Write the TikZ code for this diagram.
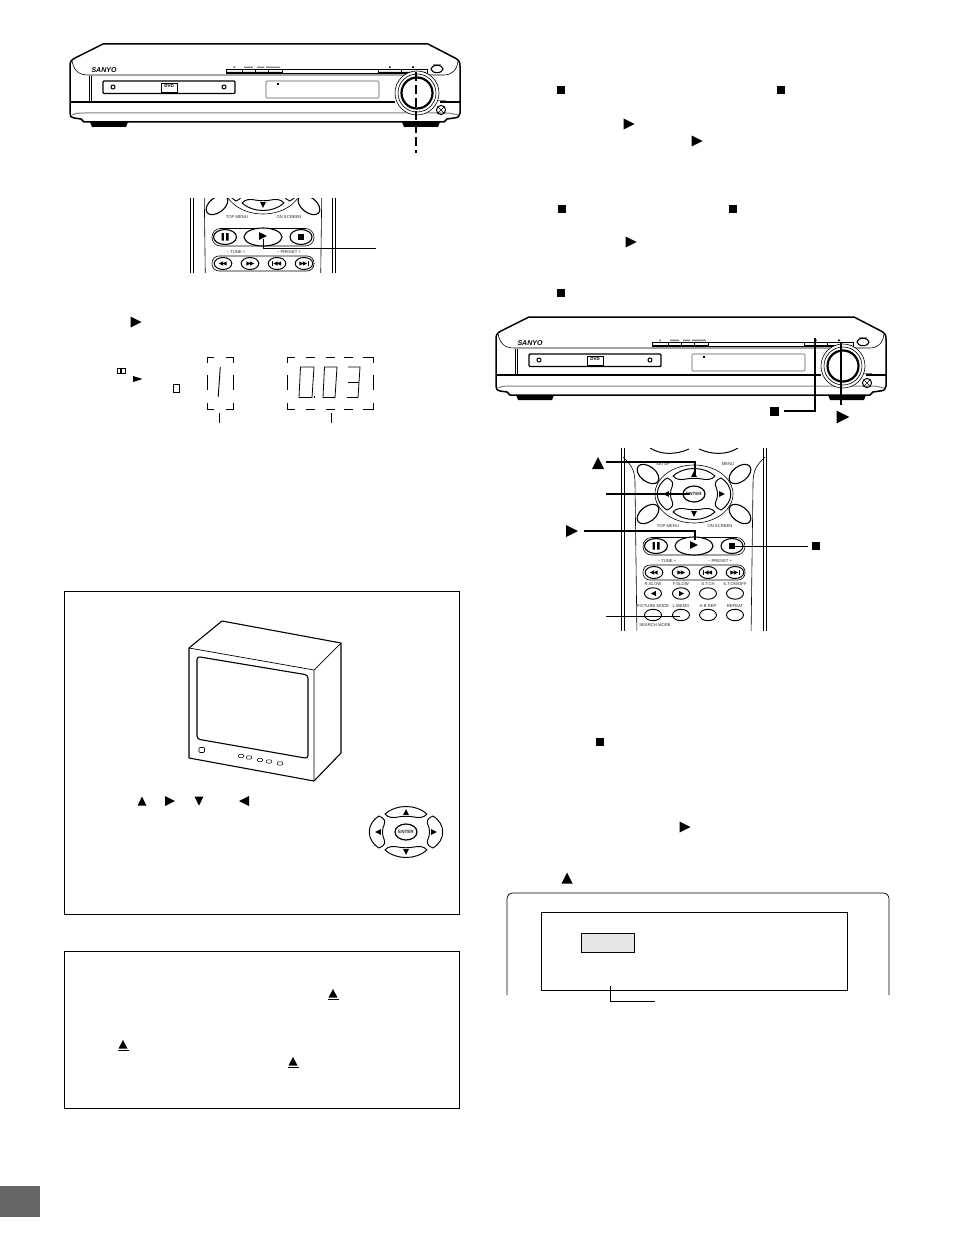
\documentclass[tikz,border=0pt]{standalone}
\usepackage{fontspec}
\setmainfont{Liberation Sans}
\newcommand\PlayT[3]{\fill (#1-#3,#2-#3) -- (#1+#3,#2) -- (#1-#3,#2+#3) -- cycle;}
\newcommand\BackT[3]{\fill (#1+#3,#2-#3) -- (#1-#3,#2) -- (#1+#3,#2+#3) -- cycle;}
\newcommand\UpT[3]{\fill (#1-#3,#2+#3) -- (#1,#2-#3) -- (#1+#3,#2+#3) -- cycle;}
\newcommand\DownT[3]{\fill (#1-#3,#2-#3) -- (#1,#2+#3) -- (#1+#3,#2-#3) -- cycle;}
\newcommand\StopS[2]{\fill (#1-4,#2-4) rectangle (#1+4,#2+4);}
\newcommand\Eject[2]{\fill (#1-4.5,#2+2.5) -- (#1,#2-6) -- (#1+4.5,#2+2.5) -- cycle; \fill (#1-5.5,#2+3.6) rectangle (#1+5.5,#2+4.8);}
% four-way pad around its centre
\newcommand\DPad{%
 \draw[padline] (-21,-18) .. controls (-10,-28) and (10,-28) .. (21,-18) .. controls (18,-14) and (12,-14) .. (8,-15) .. controls (3,-16) and (-3,-16) .. (-8,-15) .. controls (-12,-14) and (-18,-14) .. (-21,-18) -- cycle;
 \draw[padline] (-21,18) .. controls (-10,28) and (10,28) .. (21,18) .. controls (18,14) and (12,14) .. (8,15) .. controls (3,16) and (-3,16) .. (-8,15) .. controls (-12,14) and (-18,14) .. (-21,18) -- cycle;
 \draw[padline] (-27,-16) .. controls (-40,-8) and (-40,8) .. (-27,16) .. controls (-22,14) and (-20,11) .. (-22,7) .. controls (-24,3) and (-24,-3) .. (-22,-7) .. controls (-20,-11) and (-22,-14) .. (-27,-16) -- cycle;
 \draw[padline] (27,-16) .. controls (40,-8) and (40,8) .. (27,16) .. controls (22,14) and (20,11) .. (22,7) .. controls (24,3) and (24,-3) .. (22,-7) .. controls (20,-11) and (22,-14) .. (27,-16) -- cycle;
 \draw[padline,fill=white,line width=1.2pt] (0,0) ellipse (11 and 8);
 \node[tiny,font=\fontsize{4.6}{5}\bfseries\selectfont] at (0,0) {ENTER};
 \UpT{0}{-20}{2.8}\DownT{0}{20}{2.8}\BackT{-28}{0}{2.8}\PlayT{28}{0}{2.8}
}
% remote control, drawn in the coordinates of the upper one
\newcommand\RemoteBody{%
 \draw[line width=1pt] (190.8,130) -- (190.8,330) (193.6,130) -- (193.6,330) (332.4,130) -- (332.4,330) (335.2,130) -- (335.2,330);
 \draw[semithick] (192,148) .. controls (200,156) and (204,160) .. (204,175) -- (206,330);
 \draw[semithick] (334,148) .. controls (326,156) and (322,160) .. (322,175) -- (320,330);
 \draw[line width=1pt] (219,139) .. controls (230,146) and (245,146) .. (258,140) (268,140) .. controls (281,146) and (296,146) .. (307,139);
 \draw[semithick] (263,185) ellipse (39 and 29);
 \begin{scope}[shift={(263,185)}]\DPad\end{scope}
 \foreach \cx/\cy/\ang in {217/165/-38,309/165/38,217/205/38,309/205/-38}
  \draw[padline,line width=1.1pt,rotate around={\ang:(\cx,\cy)}] (\cx,\cy) ellipse (12.5 and 7.5);
 \node[tiny] at (232,155) {SETUP};
 \node[tiny] at (297,155) {MENU};
 \node[tiny] at (237,217.5) {TOP MENU};
 \node[tiny] at (289,217.5) {ON SCREEN};
 % transport group
 \draw[line width=.6pt] (212,228.5) [rounded corners=8.5pt] -- (314,228.5) -- (314,246) -- (212,246) -- cycle;
 \draw[padline,line width=1.1pt,fill=white] (225,237) ellipse (11.5 and 7.5);
 \draw[padline,line width=1.1pt,fill=white] (263,237) ellipse (19 and 9);
 \draw[padline,line width=1.1pt,fill=white] (301,237) ellipse (11 and 7.5);
 \fill (221.5,233) rectangle (223.8,240.5) (226.2,233) rectangle (228.5,240.5);
 \PlayT{263}{236}{3.8}
 \fill (297.5,233.5) rectangle (304,240);
 \node[tiny] at (236,252) {− TUNE +};
 \node[tiny] at (289,252) {− PRESET +};
 % skip group
 \draw[line width=.6pt] (212,256) [rounded corners=7pt] -- (314,256) -- (314,271) -- (212,271) -- cycle;
 \foreach \cx in {223,250,277,304} \draw[padline,line width=1pt,fill=white] (\cx,263.5) ellipse (8.8 and 6);
 \BackT{221}{263.5}{2.2}\BackT{224.5}{263.5}{2.2}
 \PlayT{248.5}{263.5}{2.2}\PlayT{252}{263.5}{2.2}
 \fill (272.2,261.3) rectangle (273,265.7); \BackT{275.5}{263.5}{2.2}\BackT{279}{263.5}{2.2}
 \PlayT{301.5}{263.5}{2.2}\PlayT{305}{263.5}{2.2} \fill (307.5,261.3) rectangle (308.3,265.7);
 % lower rows
 \foreach \cx in {222,250,277,304} {
  \draw[padline] (\cx,284.5) ellipse (8.5 and 5.7);
  \draw[padline] (\cx,306) ellipse (8.5 and 5.7);
 }
 \BackT{222}{284.5}{2.2} \fill (223.6,282.3) rectangle (224.4,286.7);
 \PlayT{251}{284.5}{2.2} \fill (247.6,282.3) rectangle (248.4,286.7);
 \node[tiny] at (222,275) {R.SLOW};
 \node[tiny] at (250,275) {F.SLOW};
 \node[tiny] at (277,275) {S.T.CH};
 \node[tiny] at (304,275) {S.T.ON/OFF};
 \node[tiny] at (222,297) {PICTURE MODE};
 \node[tiny] at (250,297) {L.MEMO};
 \node[tiny] at (277,297) {A-B REP};
 \node[tiny] at (304,297) {REPEAT};
 \node[tiny] at (224,316) {SEARCH MODE};
}
% DVD unit, drawn in the coordinates of the left one
\newcommand\UnitBody{%
 \draw[line width=1.5pt,line join=round] (103,44) -- (428,44) -- (455,58) .. controls (459,60) and (460,62) .. (460,66) -- (460,113) .. controls (460,116) and (458,118) .. (454,118) -- (447,119) -- (444,122) -- (84,122) -- (81,119) -- (74,118) .. controls (71,118) and (70,116) .. (70,113) -- (70,66) .. controls (70,62) and (71,60) .. (75,58) -- cycle;
 \fill (90,122) -- (128,122) -- (126,127) -- (92,127) -- cycle;
 \fill (402,122) -- (440,122) -- (438,127) -- (404,127) -- cycle;
 \draw[semithick] (72,61) .. controls (74,70) and (78,75) .. (88,75) -- (444,75) .. controls (452,75) and (457,70) .. (458,61);
 \draw[line width=1.1pt] (70,102) -- (395,102) (440,102) -- (460,102);
 \draw[semithick] (89,76) -- (89,102) (91,76) -- (91,102);
 \draw[gray,line width=1pt] (72,115) .. controls (76,113) and (80,113) .. (84,113) -- (446,113) .. controls (450,113) and (454,114) .. (458,115);
 \node[font=\fontsize{7}{8}\bfseries\itshape\selectfont,inner sep=0pt] (logo) at (104,70) {SANYO};
 % strip
 \draw[semithick] (226,69) rectangle (427,73);
 \draw[semithick] (242,69) -- (242,73) (255,69) -- (255,73) (268,69) -- (268,73) (282,69) -- (282,73) (378,69) -- (378,73) (401,69) -- (401,73);
 \fill (226,72) rectangle (242,73.5) (243,72) rectangle (282,73.5) (378,72) rectangle (426,73.5);
 \fill (233.5,66.5) rectangle (234.5,68) (389,66.5) rectangle (390.5,68) (412,66.5) rectangle (414,68);
 \fill[gray] (244,66.7) rectangle (253,68) (257,66.7) rectangle (264,68) (266,66.7) rectangle (280,68);
 \draw[line width=1.1pt] (437,69) ellipse (6 and 3.7);
 \fill[gray] (433,64) rectangle (441,65);
 % tray
 \draw[line width=1.4pt,rounded corners=1pt] (103,81) rectangle (235,93.5);
 \draw[line width=1pt] (113,87) circle (2); \draw[line width=1pt] (224,87) circle (2);
 \draw[semithick] (161.5,83) rectangle (177,92);
 \node[font=\fontsize{4.5}{5}\bfseries\selectfont,inner sep=0pt] at (169.2,86) {DVD};
 % display
 \draw[gray!70!black,semithick,rounded corners=1pt] (266,81) rectangle (379,98);
 \fill (277,83) rectangle (279,85.4);
 % knob
 \draw[semithick,fill=white] (417,93) circle (22);
 \draw[semithick] (417,93) circle (19);
 \draw[line width=2.2pt] (417,93) circle (15.5);
 \draw[line width=1pt] (441,110) circle (4.6);
 \draw[semithick] (438,107) -- (444,113) (444,107) -- (438,113);
 \fill[gray] (438,100) rectangle (446,101);
}
\tikzset{
 padline/.style={draw=black,line width=.95pt,line join=round},
 tiny/.style={font=\fontsize{4.2}{5}\selectfont,inner sep=0pt,text=black!85},
 leader/.style={draw=black,line width=1.2pt},
 thinleader/.style={draw=black,line width=.8pt},
 framebox/.style={draw=black,line width=.9pt},
 dashbox/.style={draw=black,line width=.8pt},
 seg/.style={draw=black,line width=.55pt,line join=miter},
}
\begin{document}
\begin{tikzpicture}[x=1pt,y=-1pt]
\useasboundingbox (0,0) rectangle (954,1244);
\fill[white] (0,0) rectangle (954,1244);

% --- left unit
\begin{scope}\UnitBody\end{scope}
\coordinate (dashA) at (416,72);
\coordinate (dashB) at (416,153);
\draw[line width=1.2pt,dash pattern=on 9pt off 4pt] (dashA) -- (dashB);

% --- upper remote
\begin{scope}
 \clip (188,198) rectangle (338,272);
 \RemoteBody
\end{scope}
\coordinate (playA) at (263,239);
\coordinate (playC) at (376,248);
\draw[thinleader] (playA) |- (playC);

% --- display
\PlayT{136}{322}{5.5}
% left bracket box
\draw[dashbox] (207,363) -- (207,357) -- (214,357) (226,357) -- (233,357) -- (233,363)
 (207,375) -- (207,390) (233,375) -- (233,390)
 (207,403) -- (207,409) -- (214,409) (226,409) -- (233,409) -- (233,403);
% right bracket box
\draw[dashbox] (287,363) -- (287,357) -- (295,357) (306,357) -- (315,357) (326,357) -- (335,357) (344,357) -- (353,357) (363,357) -- (373,357) -- (373,363)
 (287,375) -- (287,390) (373,375) -- (373,390)
 (287,403) -- (287,409) -- (295,409) (306,409) -- (315,409) (326,409) -- (335,409) (344,409) -- (353,409) (363,409) -- (373,409) -- (373,403);
\coordinate (stemA) at (219.5,413); \coordinate (stemAb) at (219.5,423);
\coordinate (stemB) at (331,413); \coordinate (stemBb) at (331,423);
\draw[thinleader] (stemA) -- (stemAb);
\draw[thinleader] (stemB) -- (stemBb);
\draw[seg,line width=.9pt] (220.3,367) -- (218.2,397);
\draw[seg,line width=.8pt] (300.5,367) -- (314,367) -- (312,397.5) -- (299,397.5) -- cycle;
\draw[seg,line width=.8pt] (324.5,367) -- (337,367) -- (335,397.5) -- (323,397.5) -- cycle;
\draw[seg,line width=.8pt] (348,367) -- (360,367) -- (358,397.5) -- (347,397.5);
\draw[seg,line width=.8pt] (348,382.5) -- (359,382.5);
\fill (313.6,396) rectangle (315,397.6);
\draw[seg] (117,368) rectangle (120.5,373) (121.5,368) rectangle (125,373);
\fill (133,376) -- (142.5,379) -- (133,382) -- cycle;
\draw[seg,line width=.7pt] (173.5,384) rectangle (179,392);

% --- box with monitor
\draw[framebox] (64.5,591) rectangle (459.5,914);
\draw[line width=1.1pt,line join=round] (189,648) -- (222,621) -- (341,643) -- (341,753) -- (314,781) -- (189,758) -- cycle;
\draw[line width=.7pt] (189,648) -- (314,670) -- (341,643) (314,670) -- (314,781);
\draw[line width=1.1pt,rounded corners=3pt] (197,656.5) -- (308,675) -- (308,758.5) -- (197,739) -- cycle;
\draw[semithick,rounded corners=1pt] (199,747.5) rectangle (204.5,752.5);
\foreach \bx/\by in {241/756,249/757.5,260/760,269/761.5,280/763.5}
 \draw[line width=.6pt,rounded corners=1pt] (\bx-2.7,\by-1.6) rectangle (\bx+2.7,\by+1.6);
\UpT{142}{801}{4.5}
\PlayT{170}{801}{5}
\DownT{199}{801}{4.5}
\BackT{244}{801}{5}
\begin{scope}[shift={(406,832)}]\DPad\end{scope}

% --- box with eject marks
\draw[framebox] (64.5,951) rectangle (459.5,1108);
\Eject{333}{995}
\Eject{123}{1046}
\Eject{293}{1063}

% --- page mark
\fill[black!60] (0,1186) rectangle (40,1217);

% --- right column text marks
\StopS{561}{90}
\StopS{781}{90}
\PlayT{629}{124}{5.5}
\PlayT{697}{141}{5.5}
\StopS{562}{209}
\StopS{733}{209}
\PlayT{631}{242}{5.5}
\StopS{561}{293}

% --- right unit
\begin{scope}[shift={(426,273)}]\UnitBody\end{scope}
\node[fill=black,minimum size=9pt,inner sep=0pt] (stopB) at (774,411) {};
\coordinate (stopT) at (815,338);
\draw[leader] (stopB.east) ++(5,0) -| (stopT);
\coordinate (playT) at (841,343);
\coordinate (playE) at (841,405);
\draw[line width=1.5pt] (playT) -- (playE);
\PlayT{843}{417}{6.3}

% --- lower remote
\begin{scope}[shift={(431,309)}]
 \clip (188,139) rectangle (338,321);
 \RemoteBody
\end{scope}
\coordinate (upA) at (606,462);   \coordinate (upB) at (695,475);
\coordinate (enA) at (606,494);   \coordinate (enB) at (690,494);
\coordinate (plA) at (584,531);   \coordinate (plB) at (695,540);
\coordinate (stA) at (808,546);   \coordinate (stB) at (732,546);
\coordinate (meA) at (606,616);   \coordinate (meB) at (680,616);
\draw[leader] (upA) -| (upB);
\draw[leader] (enA) -- (enB);
\draw[leader] (plA) -| (plB);
\draw[thinleader,line width=1pt] (stA) -- (stB);
\draw[thinleader] (meA) -- (meB);
\UpT{598}{463}{6}
\PlayT{572}{531}{6}
\StopS{816}{546}

% --- right marks beneath
\StopS{600}{742}
\PlayT{685}{827}{5.5}
\UpT{567}{878}{5.5}

% --- screen box
\draw[draw=black,line width=.7pt] (507,995) -- (507,899) .. controls (507,895.5) and (509.5,893) .. (513,893) -- (883,893) .. controls (886.5,893) and (889,895.5) .. (889,899) -- (889,995);
\draw[framebox] (541,912) rectangle (847,990);
\draw[framebox,fill=black!10] (581,933) rectangle (634,952);
\coordinate (sbA) at (610,986);
\coordinate (sbB) at (655,1001);
\draw[thinleader] (sbA) |- (sbB);
\end{tikzpicture}
\end{document}
